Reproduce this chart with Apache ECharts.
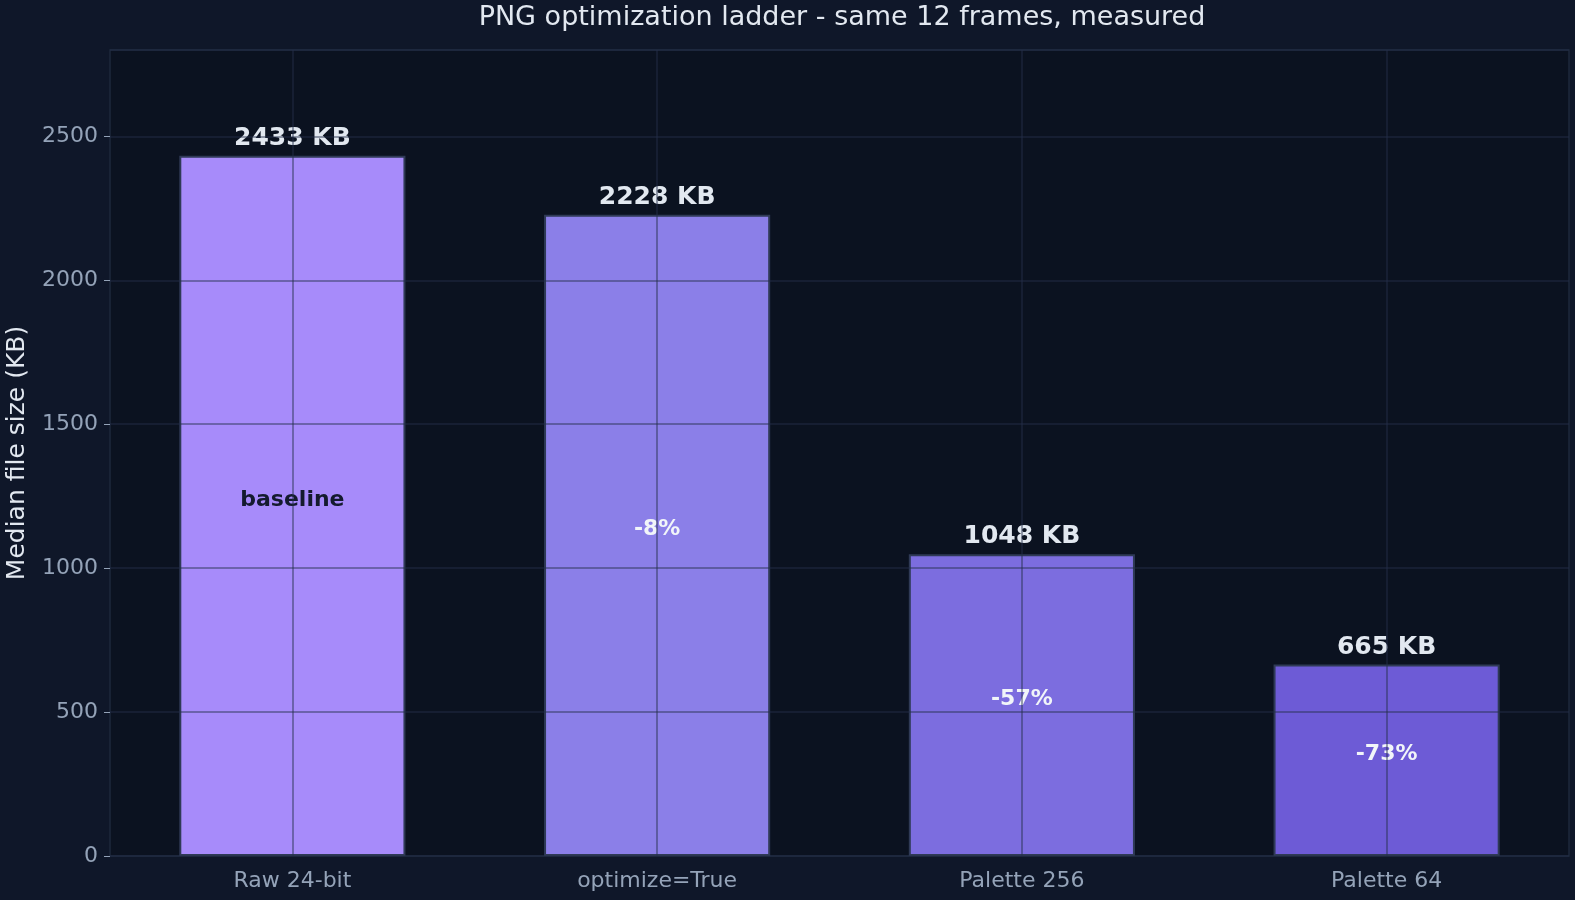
<!DOCTYPE html>
<html>
<head>
<meta charset="utf-8">
<script src="https://cdn.jsdelivr.net/npm/echarts@6/dist/echarts.min.js"></script>
<style>
  html, body { margin: 0; padding: 0; background: #0f1729; overflow: hidden; }
  #chart { width: 1575px; height: 900px; }
</style>
</head>
<body>
<div id="chart"></div>
<script>
const categories = ["Raw 24-bit", "optimize=True", "Palette 256", "Palette 64"];
const sizesKB = [2433, 2228, 1048, 665];
const changeLabels = ["baseline", "-8%", "-57%", "-73%"];

const barColors = ["#a78bfa", "#8b7fe8", "#7c6ddf", "#6d5bd6"];
const changeLabelColors = ["#141a2e", "#f1f5f9", "#f1f5f9", "#f1f5f9"];
const gridColor = "rgba(36, 48, 73, 0.6)";
const font = "DejaVu Sans";

function init() {
  const chart = echarts.init(document.getElementById("chart"));

  const topLabels = sizesKB.map((v) => `${v} KB`);

  const option = {
    backgroundColor: "#0f1729",
    animation: false,
    textStyle: { fontFamily: font },
    title: {
      text: "PNG optimization ladder - same 12 frames, measured",
      left: 837,
      textAlign: "center",
      top: -1,
      textStyle: { color: "#e2e8f0", fontSize: 27, fontWeight: "normal", fontFamily: font },
    },
    grid: {
      left: 110,
      right: 6,
      top: 50,
      bottom: 44,
      outerBoundsMode: "none",
      show: true,
      backgroundColor: "#0b1220",
      borderColor: "#1e293b",
      borderWidth: 1.5,
    },
    xAxis: {
      type: "category",
      data: categories,
      axisLine: { show: false },
      axisTick: { alignWithLabel: true, length: 6, lineStyle: { color: "#94a3b8" } },
      axisLabel: { color: "#94a3b8", fontSize: 22, margin: 14, fontFamily: font },
      splitLine: { show: false },
    },
    yAxis: {
      type: "value",
      min: 0,
      max: 2800,
      interval: 500,
      z: 3,
      name: "Median file size (KB)",
      nameLocation: "middle",
      nameGap: 80,
      nameTextStyle: { color: "#e2e8f0", fontSize: 25, fontFamily: font },
      axisLine: { show: false },
      axisTick: { show: true, length: 6, lineStyle: { color: "#94a3b8" } },
      axisLabel: {
        color: "#94a3b8",
        fontSize: 22,
        margin: 12,
        fontFamily: font,
        showMaxLabel: false,
        formatter: (v) => String(v),
      },
      splitLine: { show: true, lineStyle: { color: gridColor, width: 1.5 } },
    },
    series: [
      {
        type: "bar",
        barWidth: "62%",
        data: sizesKB.map((v, i) => ({
          value: v,
          itemStyle: { color: barColors[i] },
        })),
        itemStyle: { borderColor: "#2f3a56", borderWidth: 2 },
        label: {
          show: true,
          position: "top",
          distance: 5,
          formatter: (p) => topLabels[p.dataIndex],
          color: "#e2e8f0",
          fontSize: 25,
          fontWeight: "bold",
          fontFamily: font,
        },
        markLine: {
          silent: true,
          symbol: "none",
          label: { show: false },
          lineStyle: { color: gridColor, width: 1.5, type: "solid" },
          data: categories.map((c) => ({ xAxis: c })),
        },
        z: 2,
      },
      {
        // change labels centred inside each bar
        type: "bar",
        barWidth: "62%",
        barGap: "-100%",
        silent: true,
        itemStyle: { color: "transparent" },
        data: sizesKB.map((v, i) => ({
          value: v,
          label: { color: changeLabelColors[i] },
        })),
        label: {
          show: true,
          position: "inside",
          offset: [0, -6],
          formatter: (p) => changeLabels[p.dataIndex],
          fontSize: 22,
          fontWeight: "bold",
          fontFamily: font,
        },
        z: 4,
      },
    ],
  };

  chart.setOption(option);
  return chart;
}

init();
</script>
</body>
</html>
